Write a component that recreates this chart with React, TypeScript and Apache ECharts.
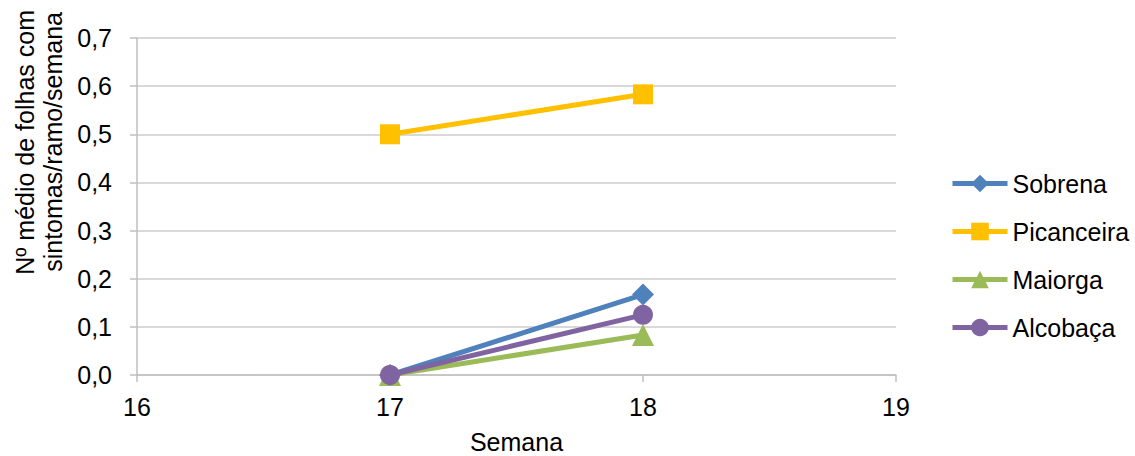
import React, { useEffect, useRef } from "react";
import * as echarts from "echarts";

const weeks = [17, 18];
const seriesNames = ["Sobrena", "Picanceira", "Maiorga", "Alcobaça"];
const sobrena = [0, 0.167];
const picanceira = [0.5, 0.583];
const maiorga = [0, 0.083];
const alcobaca = [0, 0.125];
const colors = ["#4F81BD", "#FFC000", "#9BBB59", "#8064A2"];
const symbols = ["diamond", "rect", "triangle", "circle"];
const symbolSizes = [22, 20, 22, 20];
const yTitleLines = ["Nº médio de folhas com", "sintomas/ramo/semana"];
const xTitle = "Semana";

export default function App() {
  const ref = useRef<HTMLDivElement>(null);
  useEffect(() => {
    const chart = echarts.init(ref.current!, null, { renderer: "svg" });
    const values = [sobrena, picanceira, maiorga, alcobaca];
    const font = "Liberation Sans, Arial, sans-serif";
    const fs = 25;
    chart.setOption({
      animation: false,
      textStyle: { fontFamily: font },
      grid: {
        left: 137,
        right: 239,
        top: 38,
        bottom: 81,
        containLabel: false,
        outerBoundsMode: "none",
      },
      legend: {
        orient: "vertical",
        left: 950,
        top: 171,
        padding: 0,
        itemWidth: 55,
        itemHeight: 22,
        itemGap: 23,
        lineStyle: { width: 5 },
        textStyle: { fontSize: fs, lineHeight: 25, color: "#000", fontFamily: font },
        data: seriesNames,
      },
      xAxis: {
        type: "value",
        min: 16,
        max: 19,
        interval: 1,
        name: xTitle,
        nameLocation: "middle",
        nameGap: 54,
        nameTextStyle: { fontSize: fs, color: "#000", fontFamily: font },
        axisLine: { show: true, lineStyle: { color: "#BFBFBF", width: 1.5 } },
        axisTick: { show: true, length: 7, lineStyle: { color: "#BFBFBF", width: 1.5 } },
        axisLabel: { fontSize: fs, color: "#000", margin: 19, fontFamily: font },
        splitLine: { show: false },
      },
      yAxis: {
        type: "value",
        min: 0,
        max: 0.7,
        interval: 0.1,
        axisLine: { show: true, lineStyle: { color: "#BFBFBF", width: 1.5 } },
        axisTick: { show: true, length: 7, lineStyle: { color: "#BFBFBF", width: 1.5 } },
        axisLabel: {
          fontSize: fs,
          color: "#000",
          margin: 25,
          fontFamily: font,
          formatter: (v: number) => v.toFixed(1).replace(".", ","),
        },
        splitLine: { show: true, lineStyle: { color: "#D9D9D9", width: 2 } },
      },
      graphic: [
        {
          type: "text",
          x: 25,
          y: 10,
          rotation: Math.PI / 2,
          style: {
            text: yTitleLines[0],
            fontSize: fs,
            fontFamily: font,
            fill: "#000",
            align: "right",
            verticalAlign: "middle",
          },
        },
        {
          type: "text",
          x: 53,
          y: 12,
          rotation: Math.PI / 2,
          style: {
            text: yTitleLines[1],
            fontSize: fs,
            fontFamily: font,
            fill: "#000",
            align: "right",
            verticalAlign: "middle",
          },
        },
      ],
      series: seriesNames.map((name, i) => ({
        name,
        type: "line",
        data: weeks.map((w, j) => [w, values[i][j]]),
        symbol: symbols[i],
        symbolSize: symbolSizes[i],
        lineStyle: { color: colors[i], width: 5 },
        itemStyle: { color: colors[i] },
        z: i === 2 ? 1 : 2 + i,
      })),
    });
    return () => chart.dispose();
  }, []);
  return (
    <div
      ref={ref}
      style={{ position: "absolute", left: 0, top: 0, width: 1135, height: 456 }}
    />
  );
}
